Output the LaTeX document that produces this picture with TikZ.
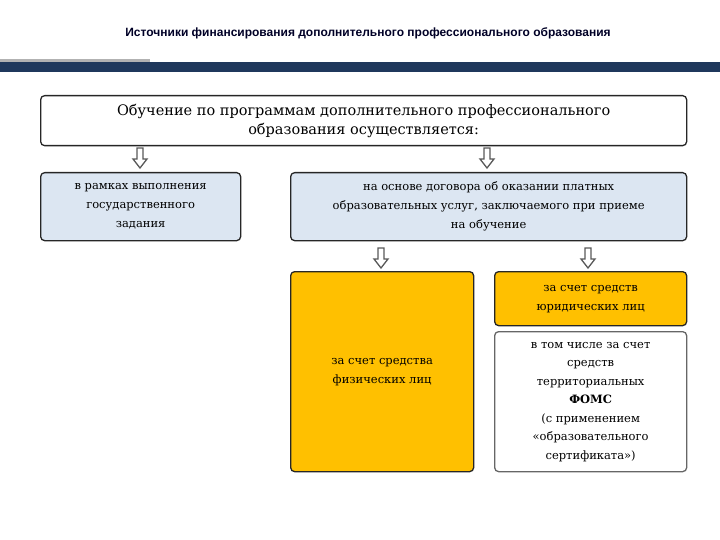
\documentclass[tikz,border=0pt]{standalone}
\usepackage{fontspec}
\setmainfont{DejaVu Serif}
\newfontfamily\hdr{Liberation Sans}
\usetikzlibrary{calc}
\begin{document}
\begin{tikzpicture}[x=1pt,y=-1pt,
 bx/.style={draw=black!85,line width=1.3pt,rounded corners=4pt,align=center,inner sep=3pt,anchor=north west},
 harr/.style={draw=gray!70!black,fill=white,line width=1.3pt}]
\useasboundingbox (0,0) rectangle (720,540);
\newcommand{\harrow}[1]{\draw[harr] ($(#1)+(-3,0)$) -- ++(6,0) -- ++(0,11) -- ++(4,0) -- ++(-7,9) -- ++(-7,-9) -- ++(4,0) -- cycle;}
\node[font=\hdr\bfseries\fontsize{12}{14}\selectfont, text=black!85!blue] (title) at (368,33) {Источники финансирования дополнительного профессионального образования};
\fill[gray!60] (0,59) rectangle (150,62);
\fill[fill={rgb,255:red,31;green,56;blue,92}] (0,62) rectangle (720,72);
\node[bx,minimum width=646,minimum height=50,fill=white,font=\fontsize{14.5}{19}\selectfont] (main) at (40,95) {Обучение по программам дополнительного профессионального\\образования осуществляется:};
\node[bx,minimum width=200,minimum height=68,fill={rgb,255:red,220;green,230;blue,242},font=\fontsize{11.5}{19}\selectfont] (left) at (40,172) {в рамках выполнения\\государственного\\задания};
\node[bx,minimum width=396,minimum height=68,fill={rgb,255:red,220;green,230;blue,242},font=\fontsize{11.5}{19}\selectfont] (right) at (290,172) {на основе договора об оказании платных\\образовательных услуг, заключаемого при приеме\\на обучение};
\node[bx,minimum width=183,minimum height=200,fill={rgb,255:red,255;green,192;blue,0},font=\fontsize{11.5}{19}\selectfont] (phys) at (290,271) {за счет средства\\физических лиц};
\node[bx,minimum width=192,minimum height=54,fill={rgb,255:red,255;green,192;blue,0},font=\fontsize{11.5}{19}\selectfont] (jur) at (494,271) {за счет средств\\юридических лиц};
\node[bx,draw=gray!80!black,minimum width=192,minimum height=140,fill=white,font=\fontsize{11.5}{18.5}\selectfont] (foms) at (494,331) {в том числе за счет\\средств\\территориальных\\\textbf{ФОМС}\\(с применением\\«образовательного\\сертификата»)};
\harrow{140,148}
\harrow{487,148}
\harrow{381,248}
\harrow{588,248}
\end{tikzpicture}
\end{document}
